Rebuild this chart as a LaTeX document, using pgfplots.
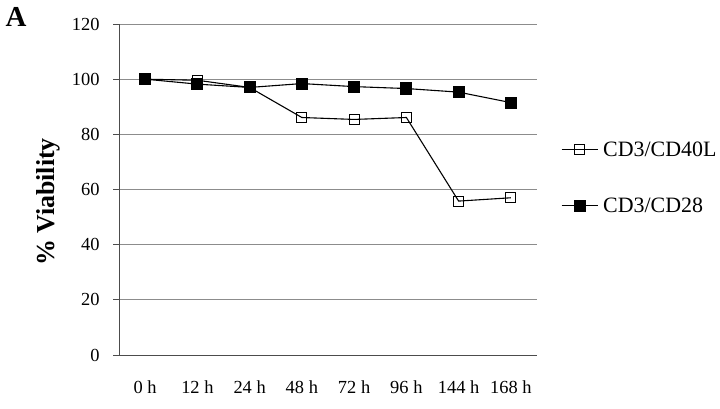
\documentclass[border=0pt]{standalone}
\usepackage{pgfplots}
\pgfplotsset{compat=1.18}
\usepackage{fontspec}
\setmainfont{Liberation Serif}
\newcommand{\tickfont}{\fontsize{18.5}{21}\selectfont}
\begin{document}
\begin{tikzpicture}[x=1bp,y=1bp]
\useasboundingbox (0,0) rectangle (720,408);
\node[anchor=center,font=\fontsize{29}{32}\selectfont\bfseries] at (16,391) {A};
\node[rotate=90,anchor=center,font=\fontsize{26}{28}\selectfont\bfseries] at (48,206) {\% Viability};
\begin{axis}[
  at={(119bp,53bp)}, anchor=south west,
  scale only axis, width=418bp, height=331bp,
  xmin=-0.5, xmax=7.5, ymin=0, ymax=120,
  ytick={0,20,...,120},
  yticklabel={\tickfont\pgfmathprintnumber[assume math mode=true]{\tick}},
  xtick={0,...,7},
  xticklabels={{\tickfont 0 h},{\tickfont 12 h},{\tickfont 24 h},{\tickfont 48 h},{\tickfont 72 h},{\tickfont 96 h},{\tickfont 144 h},{\tickfont 168 h}},
  extra x ticks={-0.5,0.5,...,7.5},
  extra x tick labels={},
  extra x tick style={major tick length=6bp, tick style={draw=black!70, line width=0.8pt}, grid=none},
  major x tick style={draw=none},
  axis x line*=bottom, axis y line*=left,
  axis line style={draw=black!70, line width=0.8pt, -},
  ymajorgrids, grid style={draw=black!45, line width=0.8pt},
  tick align=outside, major tick length=6bp,
  ytick style={draw=black!70, line width=0.8pt},
  tick label style={font=\tickfont},
  xticklabel style={yshift=-16bp},
  yticklabel style={xshift=-10bp},
  legend cell align=left,
  legend style={draw=none, fill=none, at={(1.05,0.536)}, anchor=west,
    font=\fontsize{22}{24}\selectfont, row sep=36bp,
    nodes={inner xsep=5bp}},
  legend image code/.code={
    \draw[#1,mark repeat=2,mark phase=2] plot coordinates {(0bp,0bp) (18bp,0bp) (36bp,0bp)};},
]
\addplot[black, line width=1.1pt, mark=square, mark size=5bp, mark options={fill=white, line width=1.1pt}]
  coordinates {(0,100) (1,99.6) (2,97) (3,86.1) (4,85.4) (5,86.1) (6,55.8) (7,57)};
\addlegendentry{CD3/CD40L}
\addplot[black, line width=1.1pt, mark=square*, mark size=5.5bp, mark options={fill=black}]
  coordinates {(0,100) (1,98.2) (2,97) (3,98.4) (4,97.3) (5,96.6) (6,95.3) (7,91.5)};
\addlegendentry{CD3/CD28}
\end{axis}
\end{tikzpicture}
\end{document}
